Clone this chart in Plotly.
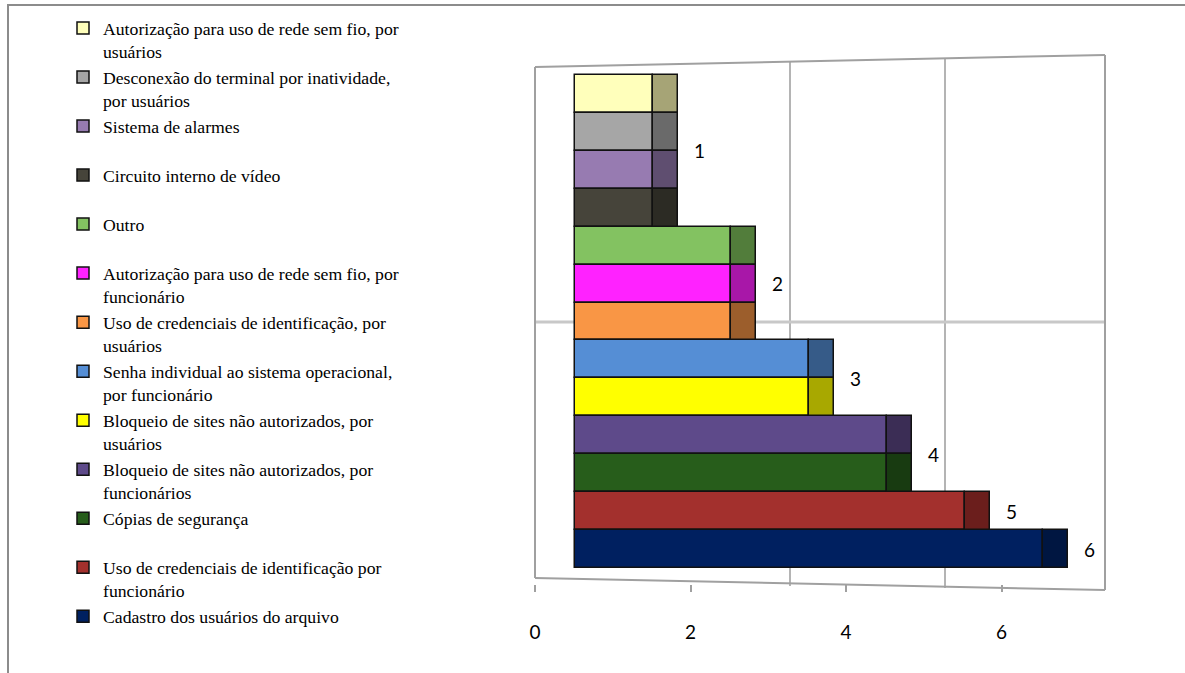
import plotly.graph_objects as go

# ---- data (top bar first, as in legend) ----
series_names = [
    "Autorização para uso de rede sem fio, por usuários",
    "Desconexão do terminal por inatividade, por usuários",
    "Sistema de alarmes",
    "Circuito interno de vídeo",
    "Outro",
    "Autorização para uso de rede sem fio, por funcionário",
    "Uso de credenciais de identificação, por usuários",
    "Senha individual ao sistema operacional, por funcionário",
    "Bloqueio de sites não autorizados, por usuários",
    "Bloqueio de sites não autorizados, por funcionários",
    "Cópias de segurança",
    "Uso de credenciais de identificação por funcionário",
    "Cadastro dos usuários do arquivo",
]
legend_labels = [
    "Autorização para uso de rede sem fio, por<br>usuários",
    "Desconexão do terminal por inatividade,<br>por usuários",
    "Sistema de alarmes<br> ",
    "Circuito interno de vídeo<br> ",
    "Outro<br> ",
    "Autorização para uso de rede sem fio, por<br>funcionário",
    "Uso de credenciais de identificação, por<br>usuários",
    "Senha individual ao sistema operacional,<br>por funcionário",
    "Bloqueio de sites não autorizados, por<br>usuários",
    "Bloqueio de sites não autorizados, por<br>funcionários",
    "Cópias de segurança<br> ",
    "Uso de credenciais de identificação por<br>funcionário",
    "Cadastro dos usuários do arquivo",
]
values = [1, 1, 1, 1, 2, 2, 2, 3, 3, 4, 4, 5, 6]
x_tick_values = [0, 2, 4, 6]

front_colors = ["#FFFFBB", "#A6A6A6", "#977BB1", "#46443A", "#83C261",
                "#FF22FF", "#F99645", "#558ED5", "#FFFF00", "#5E4A8A",
                "#275D1B", "#A3302D", "#002060"]
side_colors = ["#A6A476", "#6A6A6A", "#5F4E70", "#2C2B24", "#527D3B",
               "#A817A8", "#9C5E2C", "#365B88", "#A8A800", "#3B2D55",
               "#183B11", "#6B1E1C", "#001641"]

DEPTH = 0.32  # visual depth of the 3D side face (in axis units)
SERIF = "Liberation Serif, Times New Roman, DejaVu Serif, serif"

fig = go.Figure()

for name, lab, v, c in zip(series_names, legend_labels, values, front_colors):
    fig.add_trace(go.Bar(
        y=[name], x=[v], orientation="h", name=lab,
        marker=dict(color=c, line=dict(color="#111111", width=1.5)),
        width=1, hoverinfo="x+y",
    ))

# side faces of the pseudo-3D bars
fig.add_trace(go.Bar(
    y=series_names, x=[DEPTH] * len(values), base=values, orientation="h",
    marker=dict(color=side_colors, line=dict(color="#111111", width=1.5)),
    width=1, showlegend=False, hoverinfo="skip",
))

# invisible helper so the value axis (floor of the 3D box) is drawn
fig.add_trace(go.Scatter(
    x=x_tick_values, y=[series_names[-1]] * len(x_tick_values), xaxis="x2",
    mode="markers", marker=dict(opacity=0), showlegend=False, hoverinfo="skip",
))

# data labels: one per group of equal values
order_bottom_up = list(reversed(series_names))
annotations = []
for val in sorted(set(values)):
    idxs = [order_bottom_up.index(n) for n, v in zip(series_names, values) if v == val]
    ypos = sum(idxs) / len(idxs)
    annotations.append(dict(
        x=val + DEPTH, y=ypos, xref="x", yref="y", text=str(val),
        showarrow=False, xanchor="center", yanchor="middle", xshift=22,
        font=dict(family="Lato", size=19, color="#000000"),
    ))

L, R, T, B = 535, 80, 5, 5
W, H = 1185, 673
pw, ph = W - L - R, H - T - B

def px_x(p):
    return (p - L) / pw

def px_y(p):
    return (H - B - p) / ph

frame_color = "#A0A0A0"
grid_color = "#B4B4B4"

def pline(x0, y0, x1, y1, color, width):
    return dict(type="line", xref="paper", yref="paper",
                x0=px_x(x0), y0=px_y(y0), x1=px_x(x1), y1=px_y(y1),
                line=dict(color=color, width=width), layer="below")

shapes = [
    # outer chart-area border (partly off-canvas on right/bottom)
    dict(type="rect", xref="paper", yref="paper", x0=px_x(8), x1=px_x(1300),
         y0=px_y(800), y1=px_y(5), line=dict(color="#8C8C8C", width=2), layer="below"),
    # back-wall gridlines
    pline(790, 62, 790, 586, grid_color, 2),
    pline(945, 59, 945, 588, grid_color, 2),
    pline(535, 322, 1105, 322, "#C8C8C8", 3),
    # 3D box frame
    pline(535, 67, 535, 578, frame_color, 2),
    pline(535, 67, 1105, 55, frame_color, 2),
    pline(1105, 55, 1105, 590, frame_color, 2),
    pline(535, 578, 1105, 590, frame_color, 2),
]

floor_pos = px_y(584)

fig.update_layout(
    width=W, height=H,
    margin=dict(l=L, r=R, t=T, b=B),
    paper_bgcolor="white", plot_bgcolor="rgba(0,0,0,0)",
    barmode="overlay", bargap=0,
    xaxis=dict(range=[-0.513, 6.795], showticklabels=False, showgrid=False,
               zeroline=False, showline=False, ticks=""),
    xaxis2=dict(overlaying="x", anchor="free", position=floor_pos, side="bottom",
                range=[0, 7.33], tickvals=x_tick_values,
                ticktext=[str(t) for t in x_tick_values],
                showgrid=False, zeroline=False, showline=False,
                ticks="outside", ticklen=7, tickwidth=1.5,
                tickcolor="#A0A0A0", ticklabelstandoff=24,
                tickfont=dict(family="Lato", size=19, color="#000000")),
    yaxis=dict(type="category", categoryorder="array", categoryarray=order_bottom_up,
               range=[-0.5 - (668 - 568) / 37.9, 12.5 + (75 - 5) / 37.9],
               showticklabels=False, showgrid=False,
               zeroline=False, showline=False, ticks=""),
    legend=dict(x=px_x(63), y=px_y(10), xanchor="left", yanchor="top",
                traceorder="normal", valign="top", bgcolor="rgba(0,0,0,0)",
                font=dict(family=SERIF, size=17.7, color="#000000"),
                itemclick=False, itemdoubleclick=False, tracegroupgap=0),
    annotations=annotations,
    shapes=shapes,
    showlegend=True,
)

fig.write_html("out.html")
